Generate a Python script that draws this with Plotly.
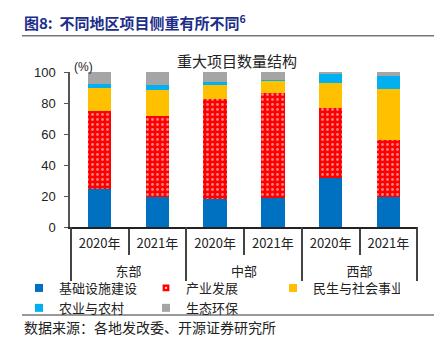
import plotly.graph_objects as go

# Region / year groups on the x axis
regions = ["东部", "东部", "中部", "中部", "西部", "西部"]
years = ["2020年", "2021年", "2020年", "2021年", "2020年", "2021年"]

# Share of major projects by type (%)
infrastructure = [24.3, 19.5, 18.1, 18.5, 31.4, 19.5]
industry = [50.3, 52.3, 64.2, 67.7, 45.4, 36.4]
livelihood = [14.8, 16.8, 9.5, 8.4, 16.1, 33.3]
agriculture = [2.6, 3.0, 1.9, 0.4, 6.2, 8.0]
ecology = [8.0, 8.4, 6.3, 5.0, 0.9, 2.8]

series = [
    ("基础设施建设", infrastructure, "#0070C0"),
    ("产业发展", industry, "#FF0000"),
    ("民生与社会事业", livelihood, "#FFC000"),
    ("农业与农村", agriculture, "#00B0F0"),
    ("生态环保", ecology, "#A5A5A5"),
]
DOTTED = "产业发展"

CJK = "Noto Sans CJK SC"
LAT = "Liberation Sans"

# a small raised spacer under each year label opens a gap before the region row
year_labels = [y + "<br><sup>&nbsp;</sup>" for y in years]

fig = go.Figure()
for name, vals, color in series:
    marker = dict(color=color, line=dict(width=0))
    if name == DOTTED:
        marker["pattern"] = dict(shape=".", fgcolor="white", bgcolor=color,
                                 size=5, solidity=0.25)
    fig.add_trace(go.Bar(x=[regions, year_labels], y=vals, name=name,
                         marker=marker, showlegend=False, legendgroup=name))

# compact square swatches for the legend
for name, vals, color in series:
    fig.add_trace(go.Scatter(
        x=[None], y=[None], mode="markers", name=name, legendgroup=name,
        marker=dict(symbol="square-dot" if name == DOTTED else "square", size=8,
                    color=color,
                    line=dict(color="white", width=1.2 if name == DOTTED else 0)),
    ))

# plot area spans x 70..418 px, y 72..227 px
L, R, T, B = 70, 418, 72, 227
W, H = R - L, B - T


def px(x):
    return (x - L) / W


def py(y):
    return (B - y) / H


fig.update_layout(
    width=443, height=349,
    margin=dict(l=L, r=443 - R, t=T, b=349 - B, autoexpand=False),
    paper_bgcolor="white", plot_bgcolor="white",
    barmode="stack", bargap=0.59,
    font=dict(family=CJK, size=12, color="#222222"),
    showlegend=True,
    legend=dict(orientation="h", x=px(19), y=py(273), xanchor="left", yanchor="top",
                entrywidth=82, entrywidthmode="pixels", traceorder="normal",
                font=dict(family=CJK, size=13, color="#222222"),
                itemwidth=30, tracegroupgap=0, bgcolor="rgba(0,0,0,0)"),
    xaxis=dict(
        type="multicategory",
        showline=True, linecolor="#222222", linewidth=1.5,
        ticks="outside", ticklen=26, tickcolor="#444444", tickwidth=1.5,
        ticklabelstandoff=4,
        showdividers=True, dividercolor="#444444", dividerwidth=1.5,
        tickfont=dict(family=CJK, size=13, color="#222222"),
        showgrid=False,
    ),
    yaxis=dict(
        range=[0, 100], dtick=20, showgrid=False, zeroline=False,
        showline=True, linecolor="#555555", linewidth=1.5,
        ticks="outside", ticklen=4, tickcolor="#555555",
        ticklabelstandoff=6,
        tickfont=dict(family=LAT, size=13, color="#222222"),
    ),
)

annotations = [
    dict(text="<b>图8:  不同地区项目侧重有所不同<sup>6</sup></b>", x=px(22), y=py(22),
         xanchor="left", yanchor="middle",
         font=dict(family=CJK, size=15, color="#1C2D8A")),
    dict(text="重大项目数量结构", x=px(237), y=py(60), xanchor="center", yanchor="middle",
         font=dict(family=CJK, size=15, color="#222222")),
    dict(text="(%)", x=px(72), y=py(67), xanchor="left", yanchor="middle",
         font=dict(family=LAT, size=12, color="#222222")),
    dict(text="数据来源：各地发改委、开源证券研究所", x=px(22), y=py(327),
         xanchor="left", yanchor="middle",
         font=dict(family=CJK, size=14, color="#222222")),
]
for a in annotations:
    a.update(xref="paper", yref="paper", showarrow=False)
fig.update_layout(annotations=annotations)

# region dividers run down past the region labels
n_groups = len(dict.fromkeys(regions))
per_group = len(regions) // n_groups
for k in range(n_groups + 1):
    xb = k * per_group - 0.5
    fig.add_shape(type="line", xref="x", yref="paper", x0=xb, x1=xb,
                  y0=0, y1=py(278), line=dict(color="#444444", width=1.5))

for yy in (35.7, 315):
    fig.add_shape(type="line", xref="paper", yref="paper",
                  x0=px(22), x1=px(434), y0=py(yy), y1=py(yy),
                  line=dict(color="#777777", width=1.5))

fig.write_html("out.html")
